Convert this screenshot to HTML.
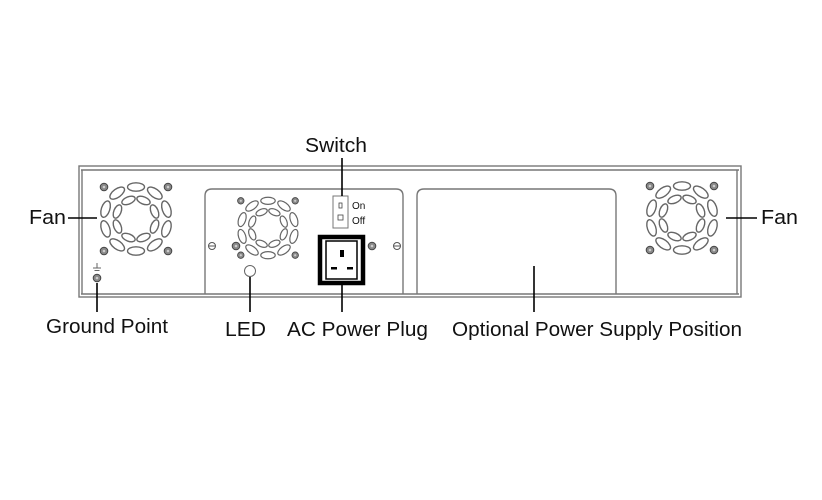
<!DOCTYPE html>
<html><head><style>
body{margin:0;background:#fff;}
svg{display:block;}
text{font-family:"Liberation Sans",Arial,sans-serif;fill:#111;}
</style></head><body>
<svg width="822" height="500" viewBox="0 0 822 500" xmlns="http://www.w3.org/2000/svg">
<defs>
<g id="slotsO" fill="#fff" stroke="#666" stroke-width="1.4">
<ellipse rx="8.5" ry="4.2" transform="rotate(0) translate(0,-32)"/>
<ellipse rx="8.5" ry="4.2" transform="rotate(36) translate(0,-32)"/>
<ellipse rx="8.5" ry="4.2" transform="rotate(72) translate(0,-32)"/>
<ellipse rx="8.5" ry="4.2" transform="rotate(108) translate(0,-32)"/>
<ellipse rx="8.5" ry="4.2" transform="rotate(144) translate(0,-32)"/>
<ellipse rx="8.5" ry="4.2" transform="rotate(180) translate(0,-32)"/>
<ellipse rx="8.5" ry="4.2" transform="rotate(216) translate(0,-32)"/>
<ellipse rx="8.5" ry="4.2" transform="rotate(252) translate(0,-32)"/>
<ellipse rx="8.5" ry="4.2" transform="rotate(288) translate(0,-32)"/>
<ellipse rx="8.5" ry="4.2" transform="rotate(324) translate(0,-32)"/>
<ellipse rx="7" ry="3.6" transform="rotate(22) translate(0,-20)"/>
<ellipse rx="7" ry="3.6" transform="rotate(68) translate(0,-20)"/>
<ellipse rx="7" ry="3.6" transform="rotate(112) translate(0,-20)"/>
<ellipse rx="7" ry="3.6" transform="rotate(158) translate(0,-20)"/>
<ellipse rx="7" ry="3.6" transform="rotate(202) translate(0,-20)"/>
<ellipse rx="7" ry="3.6" transform="rotate(248) translate(0,-20)"/>
<ellipse rx="7" ry="3.6" transform="rotate(292) translate(0,-20)"/>
<ellipse rx="7" ry="3.6" transform="rotate(338) translate(0,-20)"/>
</g>
<g id="screw"><circle r="3.8" fill="#888" stroke="#444" stroke-width="1"/><circle r="1.3" fill="#ccc"/></g>
<g id="fan">
<use href="#slotsO"/>
<use href="#screw" x="-32" y="-32"/><use href="#screw" x="32" y="-32"/>
<use href="#screw" x="-32" y="32"/><use href="#screw" x="32" y="32"/>
</g>
</defs>

<g fill="none" stroke="#777" stroke-width="1.4">
<rect x="79" y="166" width="662" height="131"/>
<line x1="81" y1="170" x2="739" y2="170"/>
<line x1="82" y1="170" x2="82" y2="294"/>
<line x1="737" y1="170" x2="737" y2="294"/>
<line x1="81" y1="294" x2="739" y2="294"/>
<path d="M205 294 V196 Q205 189 212 189 H396 Q403 189 403 196 V294"/>
<path d="M417 294 V196 Q417 189 424 189 H609 Q616 189 616 196 V294"/>
</g>

<use href="#fan" x="136" y="219"/>
<use href="#fan" x="682" y="218"/>
<g transform="translate(268,228) scale(0.85)"><use href="#fan"/></g>

<g fill="none" stroke="#555" stroke-width="1">
<circle cx="212" cy="246" r="3.5"/><line x1="209" y1="246" x2="215" y2="246"/>
<circle cx="397" cy="246" r="3.5"/><line x1="394" y1="246" x2="400" y2="246"/>
</g>
<use href="#screw" x="236" y="246"/>
<use href="#screw" x="372" y="246"/>

<rect x="333" y="196" width="15" height="32" fill="#fff" stroke="#777"/>
<rect x="339" y="203" width="3" height="5" fill="none" stroke="#444" stroke-width="0.8"/>
<rect x="338" y="215" width="5" height="5" fill="none" stroke="#444" stroke-width="0.8"/>
<text x="352" y="209" font-size="10">On</text>
<text x="352" y="224" font-size="10">Off</text>

<rect x="320" y="237" width="43" height="46" fill="#fff" stroke="#000" stroke-width="4.5"/>
<path d="M326 241 H357 V279 H326 Z" fill="none" stroke="#000" stroke-width="1.5"/>
<rect x="340" y="250" width="4" height="7" fill="#000"/>
<rect x="331" y="267" width="6" height="2.5" fill="#000"/>
<rect x="347" y="267" width="6" height="2.5" fill="#000"/>

<circle cx="250" cy="271" r="5.5" fill="#fff" stroke="#666"/>

<g stroke="#666" stroke-width="1" fill="none">
<line x1="97" y1="263" x2="97" y2="268"/><line x1="93" y1="268" x2="101" y2="268"/>
<line x1="94.5" y1="270.5" x2="99.5" y2="270.5"/>
</g>
<use href="#screw" x="97" y="278"/>

<g stroke="#000" stroke-width="1.6">
<line x1="342" y1="158" x2="342" y2="196"/>
<line x1="68" y1="218" x2="97" y2="218"/>
<line x1="726" y1="218" x2="757" y2="218"/>
<line x1="97" y1="283" x2="97" y2="312"/>
<line x1="250" y1="277" x2="250" y2="312"/>
<line x1="342" y1="285" x2="342" y2="312"/>
<line x1="534" y1="266" x2="534" y2="312"/>
</g>

<g font-size="20">
<text x="305" y="152" textLength="62" lengthAdjust="spacingAndGlyphs">Switch</text>
<text x="29" y="224" textLength="37" lengthAdjust="spacingAndGlyphs">Fan</text>
<text x="761" y="224" textLength="37" lengthAdjust="spacingAndGlyphs">Fan</text>
<text x="46" y="333" textLength="122" lengthAdjust="spacingAndGlyphs">Ground Point</text>
<text x="225" y="336" textLength="41" lengthAdjust="spacingAndGlyphs">LED</text>
<text x="287" y="336" textLength="141" lengthAdjust="spacingAndGlyphs">AC Power Plug</text>
<text x="452" y="336" textLength="290" lengthAdjust="spacingAndGlyphs">Optional Power Supply Position</text>
</g>
</svg>
</body></html>
